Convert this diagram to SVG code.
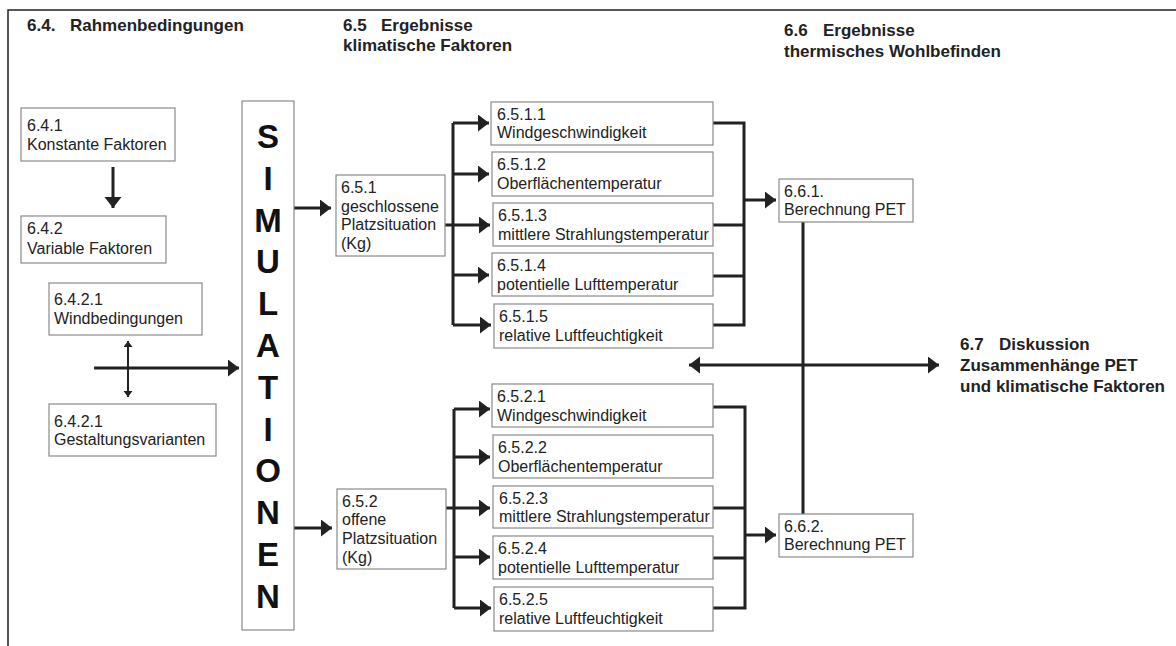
<svg xmlns="http://www.w3.org/2000/svg" width="1176" height="646" viewBox="0 0 1176 646">
<style>
.box{fill:#fff;stroke:#8a8a8a;stroke-width:1.2}
.t{font-family:"Liberation Sans",Arial,sans-serif;font-size:16px;fill:#222}
.h{font-family:"Liberation Sans",Arial,sans-serif;font-size:17px;font-weight:bold;fill:#222}
.sim{font-family:"Liberation Sans",Arial,sans-serif;font-size:33px;font-weight:bold;fill:#111;text-anchor:middle}
.ln{fill:none;stroke:#222;stroke-width:3}
.frame{fill:none;stroke:#222;stroke-width:1.5}
</style>
<defs>
<marker id="arr" markerUnits="userSpaceOnUse" markerWidth="12" markerHeight="18" refX="11" refY="8.5" orient="auto-start-reverse"><path d="M0,0 L11,8.5 L0,17 z" fill="#222"/></marker>
<marker id="arrS" markerUnits="userSpaceOnUse" markerWidth="8" markerHeight="10" refX="6" refY="4.5" orient="auto-start-reverse"><path d="M0,0 L6,4.5 L0,9 z" fill="#222"/></marker>
</defs>
<path class="frame" d="M8,646 L8,10 L1176,10"/>
<g id="headers">
<text class="h" x="27" y="31">6.4.</text><text class="h" x="70" y="31">Rahmenbedingungen</text>
<text class="h" x="343" y="31">6.5</text><text class="h" x="381" y="31">Ergebnisse</text>
<text class="h" x="343" y="51">klimatische Faktoren</text>
<text class="h" x="784" y="36">6.6</text><text class="h" x="823" y="36">Ergebnisse</text>
<text class="h" x="784" y="57">thermisches Wohlbefinden</text>
</g>
<g id="connectors">
<path class="ln" d="M113,167 L113,208" marker-end="url(#arr)"/>
<path class="ln" d="M128,341 L128,397" style="stroke-width:2" marker-start="url(#arrS)" marker-end="url(#arrS)"/>
<path class="ln" d="M94,368 L239,368" marker-end="url(#arr)"/>
<path class="ln" d="M294,208 L331,208" marker-end="url(#arr)"/>
<path class="ln" d="M294,528 L332,528" marker-end="url(#arr)"/>
<path class="ln" d="M445,225 L453,225 M453,123 L453,325"/>
<path class="ln" d="M453,123 L489,123" marker-end="url(#arr)"/>
<path class="ln" d="M453,174 L489,174" marker-end="url(#arr)"/>
<path class="ln" d="M453,225 L490,225" marker-end="url(#arr)"/>
<path class="ln" d="M453,275 L489,275" marker-end="url(#arr)"/>
<path class="ln" d="M453,325 L491,325" marker-end="url(#arr)"/>
<path class="ln" d="M446,508 L454,508 M454,409 L454,608"/>
<path class="ln" d="M454,409 L490,409" marker-end="url(#arr)"/>
<path class="ln" d="M454,457 L490,457" marker-end="url(#arr)"/>
<path class="ln" d="M454,508 L490,508" marker-end="url(#arr)"/>
<path class="ln" d="M454,557 L490,557" marker-end="url(#arr)"/>
<path class="ln" d="M454,608 L491,608" marker-end="url(#arr)"/>
<path class="ln" d="M713,123 L744,123 L744,325 L713,325 M713,225 L744,225 M713,276 L744,276"/>
<path class="ln" d="M744,200 L776,200" marker-end="url(#arr)"/>
<path class="ln" d="M713,407 L745,407 L745,608 L713,608 M713,508 L745,508 M713,558 L745,558"/>
<path class="ln" d="M745,535 L776,535" marker-end="url(#arr)"/>
<path class="ln" d="M803,222 L803,514"/>
<path class="ln" d="M689,365 L939,365" marker-start="url(#arr)" marker-end="url(#arr)"/>
</g>
<g id="n641"><rect class="box" x="21" y="108" width="154" height="53"/><text class="t" x="27" y="131">6.4.1</text><text class="t" x="27" y="150">Konstante Faktoren</text></g>
<g id="n642"><rect class="box" x="21" y="216" width="145" height="47"/><text class="t" x="27" y="234">6.4.2</text><text class="t" x="27" y="254">Variable Faktoren</text></g>
<g id="n6421a"><rect class="box" x="49" y="283" width="153" height="52"/><text class="t" x="54" y="305">6.4.2.1</text><text class="t" x="54" y="324">Windbedingungen</text></g>
<g id="n6421b"><rect class="box" x="49" y="404" width="167" height="52"/><text class="t" x="54" y="427">6.4.2.1</text><text class="t" x="54" y="445">Gestaltungsvarianten</text></g>
<g id="sim"><rect class="box" x="242" y="101" width="52" height="529"/>
<text class="sim" x="268" y="148">S</text><text class="sim" x="268" y="190">I</text><text class="sim" x="268" y="232">M</text><text class="sim" x="268" y="273">U</text><text class="sim" x="268" y="315">L</text><text class="sim" x="268" y="357">A</text><text class="sim" x="268" y="399">T</text><text class="sim" x="268" y="441">I</text><text class="sim" x="268" y="482">O</text><text class="sim" x="268" y="524">N</text><text class="sim" x="268" y="566">E</text><text class="sim" x="268" y="608">N</text></g>
<g id="n651"><rect class="box" x="336" y="175" width="109" height="81"/><text class="t" x="341" y="193">6.5.1</text><text class="t" x="341" y="212">geschlossene</text><text class="t" x="341" y="230">Platzsituation</text><text class="t" x="341" y="249">(Kg)</text></g>
<g id="n6511"><rect class="box" x="491" y="102" width="222" height="43"/><text class="t" x="497" y="120">6.5.1.1</text><text class="t" x="497" y="138">Windgeschwindigkeit</text></g>
<g id="n6512"><rect class="box" x="492" y="152" width="221" height="44"/><text class="t" x="497" y="170">6.5.1.2</text><text class="t" x="497" y="189">Oberflächentemperatur</text></g>
<g id="n6513"><rect class="box" x="493" y="203" width="220" height="43"/><text class="t" x="498" y="221">6.5.1.3</text><text class="t" x="498" y="240">mittlere Strahlungstemperatur</text></g>
<g id="n6514"><rect class="box" x="492" y="253" width="221" height="43"/><text class="t" x="497" y="271">6.5.1.4</text><text class="t" x="497" y="290">potentielle Lufttemperatur</text></g>
<g id="n6515"><rect class="box" x="494" y="304" width="219" height="44"/><text class="t" x="499" y="322">6.5.1.5</text><text class="t" x="499" y="341">relative Luftfeuchtigkeit</text></g>
<g id="n652"><rect class="box" x="337" y="489" width="109" height="80"/><text class="t" x="342" y="507">6.5.2</text><text class="t" x="342" y="525">offene</text><text class="t" x="342" y="544">Platzsituation</text><text class="t" x="342" y="563">(Kg)</text></g>
<g id="n6521"><rect class="box" x="492" y="384" width="221" height="43"/><text class="t" x="497" y="402">6.5.2.1</text><text class="t" x="497" y="421">Windgeschwindigkeit</text></g>
<g id="n6522"><rect class="box" x="493" y="435" width="220" height="43"/><text class="t" x="498" y="453">6.5.2.2</text><text class="t" x="498" y="472">Oberflächentemperatur</text></g>
<g id="n6523"><rect class="box" x="493" y="486" width="220" height="42"/><text class="t" x="499" y="504">6.5.2.3</text><text class="t" x="499" y="522">mittlere Strahlungstemperatur</text></g>
<g id="n6524"><rect class="box" x="493" y="536" width="220" height="43"/><text class="t" x="498" y="554">6.5.2.4</text><text class="t" x="498" y="573">potentielle Lufttemperatur</text></g>
<g id="n6525"><rect class="box" x="494" y="587" width="219" height="44"/><text class="t" x="499" y="605">6.5.2.5</text><text class="t" x="499" y="624">relative Luftfeuchtigkeit</text></g>
<g id="n661"><rect class="box" x="779" y="179" width="134" height="43"/><text class="t" x="784" y="197">6.6.1.</text><text class="t" x="784" y="215">Berechnung PET</text></g>
<g id="n662"><rect class="box" x="779" y="514" width="134" height="43"/><text class="t" x="784" y="532">6.6.2.</text><text class="t" x="784" y="550">Berechnung PET</text></g>
<g id="n67"><text class="h" x="960" y="350">6.7</text><text class="h" x="999" y="350">Diskussion</text><text class="h" x="960" y="371">Zusammenhänge PET</text><text class="h" x="960" y="392">und klimatische Faktoren</text></g>
</svg>
